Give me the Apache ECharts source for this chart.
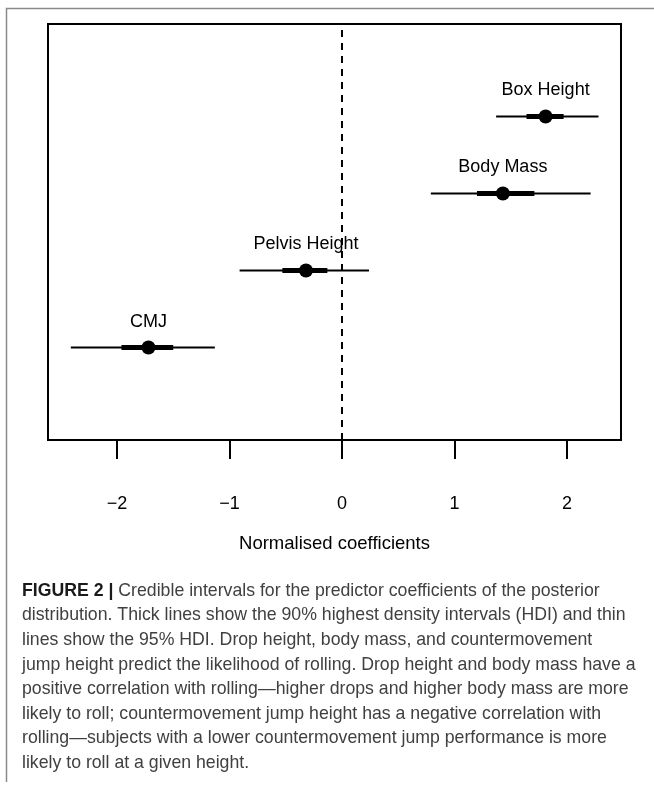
<!DOCTYPE html>
<html>
<head>
<meta charset="utf-8">
<script src="https://cdn.jsdelivr.net/npm/echarts@6/dist/echarts.min.js"></script>
<style>
html,body{margin:0;padding:0;background:#fff;}
#chart{width:654px;height:789px;}
</style>
</head>
<body>
<div id="chart"></div>
<script>
// ---- data ----
var categories = ['CMJ', 'Pelvis Height', 'Body Mass', 'Box Height'];
var rowPos = [1, 2, 3, 4];
var hdi95Low = [-2.41, -0.91, 0.79, 1.37];
var hdi95High = [-1.13, 0.24, 2.21, 2.28];
var hdi90Low = [-1.96, -0.53, 1.20, 1.64];
var hdi90High = [-1.50, -0.13, 1.71, 1.97];
var pointEst = [-1.72, -0.32, 1.43, 1.81];
var xTicks = [-2, -1, 0, 1, 2];
var axisTitle = 'Normalised coefficients';
var captionBold = 'FIGURE 2 | ';
var captionLines = [
  'Credible intervals for the predictor coefficients of the posterior',
  'distribution. Thick lines show the 90% highest density intervals (HDI) and thin',
  'lines show the 95% HDI. Drop height, body mass, and countermovement',
  'jump height predict the likelihood of rolling. Drop height and body mass have a',
  'positive correlation with rolling\u2014higher drops and higher body mass are more',
  'likely to roll; countermovement jump height has a negative correlation with',
  'rolling\u2014subjects with a lower countermovement jump performance is more',
  'likely to roll at a given height.'
];

var FONT = '"Liberation Sans", Arial, Helvetica, sans-serif';
var rows = categories.map(function (c, i) {
  return [pointEst[i], rowPos[i], hdi95Low[i], hdi95High[i], hdi90Low[i], hdi90High[i], i];
});

var chart = echarts.init(document.getElementById('chart'), null, {renderer: 'canvas'});

var graphics = [
  {type: 'polyline', shape: {points: [[6.5, 782], [6.5, 8.5], [654, 8.5]]},
   style: {stroke: '#8a8a8a', lineWidth: 1.5, fill: null}, z: 1}
];
var capTop = 592;
var capStep = 24.6;
var capFont = '17.7px ' + FONT;
captionLines.forEach(function (ln, i) {
  var el = {
    type: 'text', left: 22, top: capTop + i * capStep - 10,
    style: {text: ln, font: capFont, fill: '#404040'}
  };
  if (i === 0) {
    el.style = {
      text: '{b|' + captionBold.replace(' | ', '') + '}{s| |} ' + ln,
      font: capFont, fill: '#404040',
      rich: {
        b: {font: 'bold ' + capFont, fill: '#1a1a1a'},
        s: {font: 'bold ' + capFont, fill: '#1a1a1a'}
      }
    };
  }
  graphics.push(el);
});

chart.setOption({
  animation: false,
  backgroundColor: '#fff',
  grid: {left: 48, right: 33, top: 24, bottom: 349, show: true,
         borderColor: '#000', borderWidth: 2, backgroundColor: 'transparent'},
  xAxis: {
    type: 'value', min: -2.613, max: 2.48,
    name: axisTitle, nameLocation: 'middle', nameGap: 104,
    nameTextStyle: {fontFamily: FONT, fontSize: 18.5, color: '#000', verticalAlign: 'middle'},
    axisLine: {show: false, onZero: false},
    axisTick: {show: true, length: 19, inside: false, customValues: xTicks,
               lineStyle: {color: '#000', width: 2}},
    axisLabel: {show: true, customValues: xTicks, margin: 55,
                fontFamily: FONT, fontSize: 18, color: '#000',
                formatter: function (v) { return v < 0 ? '\u2212' + Math.abs(v) : String(v); }},
    splitLine: {show: false}
  },
  yAxis: {
    type: 'value', min: -0.2, max: 5.2, show: false,
    splitLine: {show: false}
  },
  series: [
    {
      type: 'custom',
      data: rows,
      encode: {x: 0, y: 1},
      clip: false,
      renderItem: function (params, api) {
        var y = api.value(1);
        var p0 = api.coord([api.value(2), y]);
        var p1 = api.coord([api.value(3), y]);
        var t0 = api.coord([api.value(4), y]);
        var t1 = api.coord([api.value(5), y]);
        var c = api.coord([api.value(0), y]);
        var idx = api.value(6);
        return {
          type: 'group',
          children: [
            {type: 'line', shape: {x1: p0[0], y1: p0[1], x2: p1[0], y2: p1[1]},
             style: {stroke: '#000', lineWidth: 2}},
            {type: 'line', shape: {x1: t0[0], y1: t0[1], x2: t1[0], y2: t1[1]},
             style: {stroke: '#000', lineWidth: 5}},
            {type: 'circle', shape: {cx: c[0], cy: c[1], r: 7}, style: {fill: '#000'}},
            {type: 'text', x: c[0], y: c[1] - 26,
             style: {text: categories[idx], font: '18px ' + FONT, fill: '#000',
                     align: 'center', verticalAlign: 'middle'}}
          ]
        };
      },
      markLine: {
        silent: true, symbol: 'none', label: {show: false},
        lineStyle: {color: '#000', width: 2, type: [7, 6]},
        data: [{xAxis: 0}]
      }
    }
  ],
  graphic: graphics
});
</script>
</body>
</html>
